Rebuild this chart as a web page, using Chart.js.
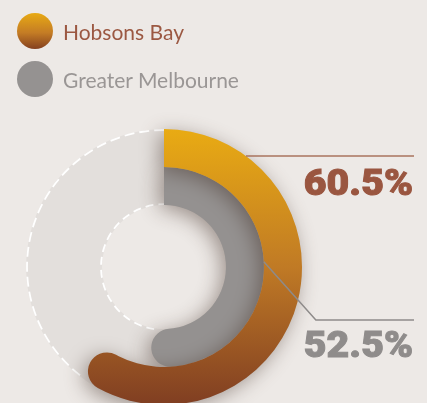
<!DOCTYPE html>
<html>
<head>
<meta charset="utf-8">
<script src="https://cdn.jsdelivr.net/npm/chart.js@4/dist/chart.umd.min.js"></script>
<style>
  html, body { margin:0; padding:0; background:#ede9e6; overflow:hidden; width:427px; height:403px; }
  #wrap { position:relative; width:427px; height:403px; overflow:hidden; }
  canvas { position:absolute; left:0; top:0; }
  .leg { position:absolute; left:17px; display:flex; align-items:center; font-family:"Lato","Open Sans",sans-serif; font-size:21px; font-weight:400; }
  .dot { width:36px; height:36px; border-radius:50%; margin-right:10px; }
  .val { position:absolute; right:14px; font-family:"Roboto","Lato",sans-serif; font-weight:900; font-size:37px; line-height:1; transform:scaleX(1.06); transform-origin:right center; -webkit-text-stroke:1px currentColor; }
</style>
</head>
<body>
<div id="wrap">
  <canvas id="c" width="427" height="410"></canvas>
  <div id="legend"></div>
  <div id="labels"></div>
</div>
<script>
const seriesNames = ["Hobsons Bay", "Greater Melbourne"];
const seriesValues = [60.5, 52.5];
const valueLabels = ["60.5%", "52.5%"];
const textColors = ["#9b5842", "#9a9695"];
const labelColors = ["#9a5640", "#8f8c8b"];

const legend = document.getElementById('legend');
seriesNames.forEach((n, i) => {
  const d = document.createElement('div');
  d.className = 'leg';
  d.style.top = (i === 0 ? 13 : 61) + 'px';
  const dot = document.createElement('div');
  dot.className = 'dot';
  dot.style.background = i === 0 ? 'linear-gradient(#e8aa14 0%, #c47c25 55%, #84401f 100%)' : '#959291';
  const t = document.createElement('span');
  t.textContent = n;
  t.style.color = textColors[i];
  d.appendChild(dot); d.appendChild(t);
  legend.appendChild(d);
});

const labels = document.getElementById('labels');
valueLabels.forEach((v, i) => {
  const s = document.createElement('div');
  s.className = 'val';
  s.textContent = v;
  s.style.color = labelColors[i];
  s.style.top = (i === 0 ? 164 : 326) + 'px';
  labels.appendChild(s);
});

function outerFill(ctx) {
  if (ctx.dataIndex !== 0) return 'rgba(0,0,0,0)';
  const area = ctx.chart.chartArea;
  if (!area) return '#c07a25';
  const g = ctx.chart.ctx.createLinearGradient(0, area.top, 0, area.bottom);
  g.addColorStop(0, '#e9ab13');
  g.addColorStop(0.5, '#c07a25');
  g.addColorStop(1, '#803e22');
  return g;
}
function innerFill(ctx) {
  return ctx.dataIndex === 0 ? '#949190' : 'rgba(0,0,0,0)';
}

const trackPlugin = {
  id: 'track',
  beforeDatasetsDraw(chart) {
    const ctx = chart.ctx;
    const outer = chart.getDatasetMeta(0).data;
    const inner = chart.getDatasetMeta(1).data;
    const x = outer[0].x, y = outer[0].y;
    const R = outer[0].outerRadius, r = inner[0].innerRadius;
    ctx.save();
    ctx.beginPath();
    ctx.arc(x, y, R, 0, Math.PI * 2);
    ctx.arc(x, y, r, 0, Math.PI * 2, true);
    ctx.fillStyle = '#e3dfdc';
    ctx.fill();
    ctx.strokeStyle = '#ffffff';
    ctx.lineWidth = 1.8;
    ctx.setLineDash([10, 5]);
    ctx.beginPath();
    ctx.arc(x, y, R - 1, outer[1].startAngle, outer[1].endAngle);
    ctx.stroke();
    ctx.setLineDash([8, 5]);
    ctx.beginPath();
    ctx.arc(x, y, r + 1, inner[1].startAngle, inner[1].endAngle);
    ctx.stroke();
    ctx.restore();
  },
  beforeDatasetDraw(chart) {
    const ctx = chart.ctx;
    ctx.save();
    ctx.shadowColor = 'rgba(60,40,30,0.45)';
    ctx.shadowBlur = 20;
    ctx.shadowOffsetX = -4;
    ctx.shadowOffsetY = 4;
  },
  afterDatasetDraw(chart) {
    chart.ctx.restore();
  },
  afterDatasetsDraw(chart) {
    const ctx = chart.ctx;
    const outer = chart.getDatasetMeta(0).data[0];
    const inner = chart.getDatasetMeta(1).data[0];
    const x = outer.x, y = outer.y;
    const R = outer.outerRadius;
    const rightX = 414;
    ctx.save();
    ctx.lineWidth = 1.5;
    const y1 = y - 111;
    const x1 = x + Math.sqrt(R * R - 111 * 111);
    ctx.strokeStyle = '#a8735e';
    ctx.beginPath();
    ctx.moveTo(x1, y1);
    ctx.lineTo(rightX, y1);
    ctx.stroke();
    const a = 87 * Math.PI / 180;
    const rr = inner.outerRadius;
    const sx = x + rr * Math.sin(a), sy = y - rr * Math.cos(a);
    ctx.strokeStyle = '#8e8b8a';
    ctx.beginPath();
    ctx.moveTo(sx, sy);
    ctx.lineTo(sx + 52, y + 53);
    ctx.lineTo(rightX, y + 53);
    ctx.stroke();
    ctx.restore();
  }
};

new Chart(document.getElementById('c'), {
  type: 'doughnut',
  data: {
    labels: ['value', 'rest'],
    datasets: [
      {
        label: seriesNames[0],
        data: [seriesValues[0], 100 - seriesValues[0]],
        backgroundColor: outerFill,
        borderWidth: 0,
        borderRadius: [{ outerStart: 0, innerStart: 0, outerEnd: 19, innerEnd: 19 }, 0]
      },
      {
        label: seriesNames[1],
        data: [seriesValues[1], 100 - seriesValues[1]],
        backgroundColor: innerFill,
        borderWidth: 0,
        borderRadius: [{ outerStart: 0, innerStart: 0, outerEnd: 19, innerEnd: 19 }, 0]
      }
    ]
  },
  options: {
    responsive: false,
    animation: false,
    cutout: '44.9%',
    layout: { padding: { left: 26, right: 125, top: 129, bottom: 5 } },
    plugins: { legend: { display: false }, tooltip: { enabled: false } },
    events: []
  },
  plugins: [trackPlugin]
});
</script>
</body>
</html>
